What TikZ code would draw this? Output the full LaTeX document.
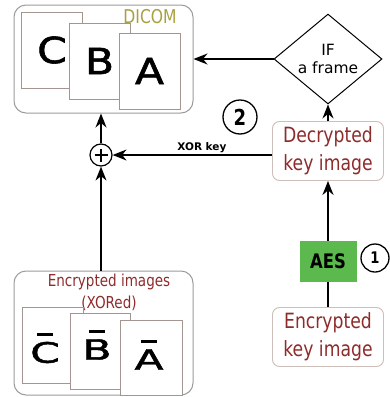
\documentclass[tikz,border=0pt]{standalone}
\usepackage{fontspec}
\setmainfont{DejaVu Sans}
\newfontfamily\condensed[FakeStretch=0.82]{DejaVu Sans}
\newfontfamily\wideletters[FakeStretch=1.18,FakeBold=1.6]{DejaVu Sans}
\usetikzlibrary{arrows.meta,shapes.geometric}
\definecolor{boxgrey}{HTML}{9C9A9A}
\definecolor{pageline}{HTML}{A39590}
\definecolor{keyborder}{HTML}{CDBFBA}
\definecolor{keyred}{HTML}{8E2C2C}
\definecolor{dicomolive}{HTML}{A8A040}
\definecolor{aesgreen}{HTML}{5CB94E}
% letter with a short bar above it
\newcommand\barletter[1]{\scalebox{1}[0.78]{\vbox{\offinterlineskip\halign{\hfil##\hfil\cr
  \vrule width 0.42em height 0.1em depth 0pt\cr\noalign{\kern 0.22em}#1\cr}}}}
\begin{document}
\begin{tikzpicture}[x=1pt,y=-1pt,
  container/.style={draw=boxgrey, line width=1pt, rounded corners=12pt, inner sep=0pt},
  page/.style={draw=pageline, fill=white, line width=0.9pt, inner sep=0pt,
    minimum width=61pt, minimum height=76pt},
  bigletter/.style={inner sep=0pt, font=\wideletters\fontsize{36}{36}\selectfont},
  keybox/.style={draw=keyborder, fill=white, rounded corners=7pt, line width=0.9pt,
    minimum width=111pt, minimum height=59pt, inner sep=0pt, align=center,
    text=keyred, font=\condensed\fontsize{21}{28}\selectfont},
  stepmark/.style={circle, draw, line width=1.3pt, inner sep=0pt},
  flow/.style={-{Stealth[length=14pt,width=11pt,inset=4.5pt]}, line width=1.4pt},
  link/.style={line width=1.4pt}]
\useasboundingbox (0,0) rectangle (389,397);

% DICOM container with the three frames
\node[container, minimum width=179pt, minimum height=108pt] (dicom) at (103.5,59) {};
\node[text=dicomolive, inner sep=0pt, anchor=base,
  font=\condensed\fontsize{19}{19}\selectfont] (dicomlabel) at (150,23) {DICOM};
\node[page, bigletter] (pgC) at (52,50) {C};
\node[page, bigletter] (pgB) at (99.5,61) {B};
\node[page, bigletter] (pgA) at (149.5,71) {A};

% decision
\node[diamond, draw, line width=1pt, minimum width=108pt, minimum height=66pt,
  inner sep=0pt, align=center, font=\fontsize{15.5}{18}\selectfont] (frame) at (328,59) {IF\\a frame};

% key path
\node[keybox] (dec) at (328,151) {Decrypted\\key image};
\node[fill=aesgreen, minimum width=57pt, minimum height=41pt, inner sep=0pt,
  font=\condensed\bfseries\fontsize{20}{20}\selectfont] (aes) at (328,261.5) {AES};
\node[keybox] (enckey) at (328,337) {Encrypted\\key image};
\node[stepmark, minimum size=28pt, font=\condensed\bfseries\fontsize{16}{16}\selectfont] (stepone) at (375,258) {1};
\node[stepmark, minimum size=34pt, font=\condensed\bfseries\fontsize{22}{22}\selectfont] (steptwo) at (240,117) {2};

% XOR operator
\node[circle, draw, line width=1.2pt, minimum size=22pt, inner sep=0pt] (xor) at (101,155) {};
\draw[line width=1.2pt] ([xshift=-6.5pt]xor.center) -- ([xshift=6.5pt]xor.center);
\draw[line width=1.2pt] ([yshift=-6.5pt]xor.center) -- ([yshift=6.5pt]xor.center);

% encrypted images container
\node[container, minimum width=179pt, minimum height=124pt] (encimg) at (103.5,333) {};
\node[text=keyred, inner sep=0pt, align=center,
  font=\condensed\fontsize{16.5}{22}\selectfont] (enclabel) at (109,292) {Encrypted images\\(XORed)};
\node[page, minimum width=61pt, minimum height=76pt] (pgCbar) at (52.5,345) {};
\node[page, minimum width=60pt, minimum height=76pt] (pgBbar) at (100,351) {};
\node[page, minimum width=62pt, minimum height=75pt] (pgAbar) at (151,357.5) {};
\node[bigletter] (lCbar) at (45,348) {\barletter{C}};
\node[bigletter] (lBbar) at (97,345) {\barletter{B}};
\node[bigletter] (lAbar) at (149,355) {\barletter{A}};

% connectors
\draw[flow] (frame.west) -- (frame.west -| dicom.east);
\draw[flow] (dec.north) -- (frame.south);
\draw[flow] (dec.west |- xor.east) -- (xor.east)
  node[pos=0.44, above=1pt, inner sep=1pt, font=\bfseries\fontsize{10.5}{10.5}\selectfont] (xorlabel) {XOR key};
\draw[flow] (xor.north) -- (xor.north |- dicom.south);
\draw[flow] (xor.south |- encimg.north) -- (xor.south);
\draw[flow] (aes.north) -- (dec.south);
\draw[link] (enckey.north) -- (aes.south);
\end{tikzpicture}
\end{document}
